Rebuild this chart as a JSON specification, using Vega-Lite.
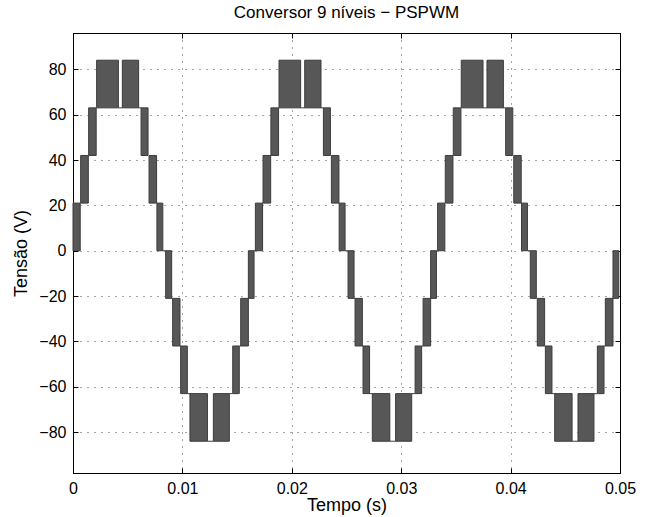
{
  "$schema": "https://vega.github.io/schema/vega-lite/v6.json",
  "width": 547,
  "height": 440,
  "autosize": "none",
  "padding": {"left": 73, "top": 33, "right": 30, "bottom": 44},
  "background": "white",
  "config": {
    "font": "Liberation Sans",
    "view": {"stroke": "black", "strokeWidth": 1},
    "axis": {"labelFont": "Liberation Sans", "titleFont": "Liberation Sans", "labelColor": "black", "titleColor": "black", "domainColor": "black", "tickColor": "black"}
  },
  "title": {"text": "Conversor 9 níveis − PSPWM", "fontSize": 17, "fontWeight": "normal", "font": "Liberation Sans", "color": "black", "offset": 11},
  "datasets": {
    "bands": [
      {"t0": 0, "t1": 0.00066, "lo": 0, "hi": 21},
      {"t0": 0.0007, "t1": 0.0014, "lo": 21, "hi": 42},
      {"t0": 0.00143, "t1": 0.00212, "lo": 42, "hi": 63},
      {"t0": 0.00216, "t1": 0.00415, "lo": 63, "hi": 84},
      {"t0": 0.00451, "t1": 0.006, "lo": 63, "hi": 84},
      {"t0": 0.00622, "t1": 0.00686, "lo": 42, "hi": 63},
      {"t0": 0.00695, "t1": 0.00764, "lo": 21, "hi": 42},
      {"t0": 0.00767, "t1": 0.00821, "lo": 0, "hi": 21},
      {"t0": 0.00847, "t1": 0.00902, "lo": -21, "hi": 0},
      {"t0": 0.00911, "t1": 0.00978, "lo": -42, "hi": -21},
      {"t0": 0.00984, "t1": 0.01045, "lo": -63, "hi": -42},
      {"t0": 0.01069, "t1": 0.01229, "lo": -84, "hi": -63},
      {"t0": 0.01283, "t1": 0.01429, "lo": -84, "hi": -63},
      {"t0": 0.0146, "t1": 0.0152, "lo": -63, "hi": -42},
      {"t0": 0.01533, "t1": 0.01603, "lo": -42, "hi": -21},
      {"t0": 0.01603, "t1": 0.01655, "lo": -21, "hi": 0},
      {"t0": 0.01667, "t1": 0.01733, "lo": 0, "hi": 21},
      {"t0": 0.01737, "t1": 0.01807, "lo": 21, "hi": 42},
      {"t0": 0.01809, "t1": 0.01879, "lo": 42, "hi": 63},
      {"t0": 0.01883, "t1": 0.02081, "lo": 63, "hi": 84},
      {"t0": 0.02118, "t1": 0.02267, "lo": 63, "hi": 84},
      {"t0": 0.02289, "t1": 0.02353, "lo": 42, "hi": 63},
      {"t0": 0.02362, "t1": 0.02431, "lo": 21, "hi": 42},
      {"t0": 0.02433, "t1": 0.02487, "lo": 0, "hi": 21},
      {"t0": 0.02514, "t1": 0.02569, "lo": -21, "hi": 0},
      {"t0": 0.02578, "t1": 0.02645, "lo": -42, "hi": -21},
      {"t0": 0.02651, "t1": 0.02711, "lo": -63, "hi": -42},
      {"t0": 0.02736, "t1": 0.02896, "lo": -84, "hi": -63},
      {"t0": 0.02949, "t1": 0.03096, "lo": -84, "hi": -63},
      {"t0": 0.03127, "t1": 0.03187, "lo": -63, "hi": -42},
      {"t0": 0.032, "t1": 0.03269, "lo": -42, "hi": -21},
      {"t0": 0.03269, "t1": 0.03322, "lo": -21, "hi": 0},
      {"t0": 0.03333, "t1": 0.03399, "lo": 0, "hi": 21},
      {"t0": 0.03403, "t1": 0.03473, "lo": 21, "hi": 42},
      {"t0": 0.03476, "t1": 0.03546, "lo": 42, "hi": 63},
      {"t0": 0.03549, "t1": 0.03748, "lo": 63, "hi": 84},
      {"t0": 0.03784, "t1": 0.03934, "lo": 63, "hi": 84},
      {"t0": 0.03955, "t1": 0.0402, "lo": 42, "hi": 63},
      {"t0": 0.04029, "t1": 0.04097, "lo": 21, "hi": 42},
      {"t0": 0.041, "t1": 0.04154, "lo": 0, "hi": 21},
      {"t0": 0.0418, "t1": 0.04235, "lo": -21, "hi": 0},
      {"t0": 0.04244, "t1": 0.04311, "lo": -42, "hi": -21},
      {"t0": 0.04318, "t1": 0.04378, "lo": -63, "hi": -42},
      {"t0": 0.04403, "t1": 0.04562, "lo": -84, "hi": -63},
      {"t0": 0.04616, "t1": 0.04762, "lo": -84, "hi": -63},
      {"t0": 0.04793, "t1": 0.04854, "lo": -63, "hi": -42},
      {"t0": 0.04866, "t1": 0.04936, "lo": -42, "hi": -21},
      {"t0": 0.04936, "t1": 0.04989, "lo": -21, "hi": 0}
    ],
    "flats": [
      {"t0": 0.00415, "t1": 0.00451, "v": 63},
      {"t0": 0.006, "t1": 0.00622, "v": 63},
      {"t0": 0.00821, "t1": 0.00847, "v": 0},
      {"t0": 0.00902, "t1": 0.00911, "v": -21},
      {"t0": 0.00978, "t1": 0.00984, "v": -42},
      {"t0": 0.01045, "t1": 0.01069, "v": -63},
      {"t0": 0.01229, "t1": 0.01283, "v": -84},
      {"t0": 0.01429, "t1": 0.0146, "v": -63},
      {"t0": 0.0152, "t1": 0.01533, "v": -42},
      {"t0": 0.01655, "t1": 0.01667, "v": 0},
      {"t0": 0.02081, "t1": 0.02118, "v": 63},
      {"t0": 0.02267, "t1": 0.02289, "v": 63},
      {"t0": 0.02487, "t1": 0.02514, "v": 0},
      {"t0": 0.02569, "t1": 0.02578, "v": -21},
      {"t0": 0.02645, "t1": 0.02651, "v": -42},
      {"t0": 0.02711, "t1": 0.02736, "v": -63},
      {"t0": 0.02896, "t1": 0.02949, "v": -84},
      {"t0": 0.03096, "t1": 0.03127, "v": -63},
      {"t0": 0.03187, "t1": 0.032, "v": -42},
      {"t0": 0.03322, "t1": 0.03333, "v": 0},
      {"t0": 0.03748, "t1": 0.03784, "v": 63},
      {"t0": 0.03934, "t1": 0.03955, "v": 63},
      {"t0": 0.04154, "t1": 0.0418, "v": 0},
      {"t0": 0.04235, "t1": 0.04244, "v": -21},
      {"t0": 0.04311, "t1": 0.04318, "v": -42},
      {"t0": 0.04378, "t1": 0.04403, "v": -63},
      {"t0": 0.04562, "t1": 0.04616, "v": -84},
      {"t0": 0.04762, "t1": 0.04793, "v": -63},
      {"t0": 0.04854, "t1": 0.04866, "v": -42}
    ]
  },
  "resolve": {"axis": {"x": "independent", "y": "independent"}},
  "layer": [
    {
      "data": {"name": "bands"},
      "mark": {"type": "rect", "fill": "#575757", "stroke": "#3c3c3c", "strokeWidth": 1},
      "encoding": {
        "x": {"field": "t0", "type": "quantitative", "scale": {"domain": [0, 0.05], "nice": false, "zero": false},
          "axis": {"orient": "bottom", "values": [0, 0.01, 0.02, 0.03, 0.04, 0.05], "labelExpr": "datum.value === 0 ? '0' : format(datum.value, '.2f')", "title": "Tempo (s)", "titleFontSize": 18, "titleFontWeight": "normal", "labelFontSize": 16, "tickSize": -5, "labelPadding": 12, "titlePadding": 0, "grid": true, "gridColor": "#000000", "gridDash": [1, 6], "gridOpacity": 0.7, "labelFlush": false}},
        "x2": {"field": "t1"},
        "y": {"field": "lo", "type": "quantitative", "scale": {"domain": [-98, 96], "nice": false, "zero": false},
          "axis": {"orient": "left", "values": [-80, -60, -40, -20, 0, 20, 40, 60, 80], "title": "Tensão (V)", "titleFontSize": 18, "titleFontWeight": "normal", "labelFontSize": 16, "tickSize": -5, "labelPadding": 12, "titlePadding": 8, "grid": true, "gridColor": "#000000", "gridDash": [1, 6], "gridOpacity": 0.7}},
        "y2": {"field": "hi"}
      }
    },
    {
      "data": {"name": "flats"},
      "mark": {"type": "rule", "stroke": "#3c3c3c", "strokeWidth": 1},
      "encoding": {
        "x": {"field": "t0", "type": "quantitative", "axis": {"orient": "top", "values": [0, 0.01, 0.02, 0.03, 0.04, 0.05], "labels": false, "title": null, "tickSize": -5, "grid": false}},
        "x2": {"field": "t1"},
        "y": {"field": "v", "type": "quantitative", "axis": {"orient": "right", "values": [-80, -60, -40, -20, 0, 20, 40, 60, 80], "labels": false, "title": null, "tickSize": -5, "grid": false}}
      }
    }
  ]
}
